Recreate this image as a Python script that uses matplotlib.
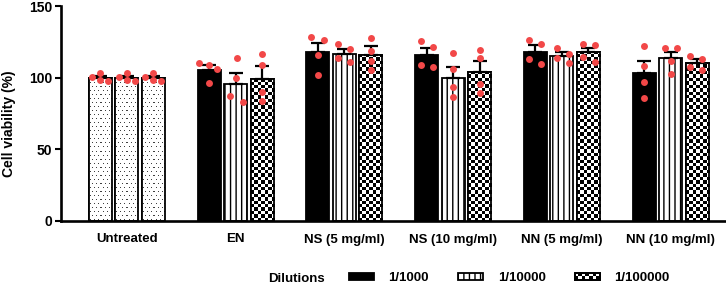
import numpy as np
import matplotlib
matplotlib.use('Agg')
import matplotlib.pyplot as plt
from matplotlib.patches import Rectangle
from matplotlib.legend_handler import HandlerBase

plt.rcParams['font.family'] = ['Liberation Sans', 'DejaVu Sans']
plt.rcParams['font.weight'] = 'bold'
plt.rcParams['hatch.linewidth'] = 1.0

# ---------------- data ----------------
groups = ['Untreated', 'EN', 'NS (5 mg/ml)', 'NS (10 mg/ml)', 'NN (5 mg/ml)', 'NN (10 mg/ml)']
dilutions = ['1/1000', '1/10000', '1/100000']
legend_title = 'Dilutions'
y_label = 'Cell viability (%)'
y_ticks = [0, 50, 100, 150]

means_1000 = [100.0, 105.3, 117.6, 115.7, 117.6, 103.2]
means_10000 = [100.0, 95.6, 116.4, 100.0, 115.0, 113.4]
means_100000 = [100.0, 99.0, 116.0, 104.2, 117.6, 110.0]

sem_1000 = [1.3, 3.7, 6.7, 5.1, 5.1, 8.1]
sem_10000 = [1.3, 7.4, 3.9, 7.6, 3.0, 4.6]
sem_100000 = [1.3, 9.0, 6.0, 7.6, 3.4, 2.7]

points_1000 = [
    [100.7, 103.3, 98.6, 97.9],
    [110.4, 109.0, 106.3, 96.0],
    [128.5, 126.4, 115.7, 101.6],
    [125.7, 121.7, 109.0, 107.2],
    [126.2, 123.4, 113.0, 109.5],
    [122.4, 108.3, 97.0, 85.6],
]
points_10000 = [
    [100.7, 103.3, 98.6, 97.9],
    [114.0, 100.0, 87.0, 83.3],
    [123.4, 119.9, 113.7, 110.6],
    [117.0, 105.8, 93.3, 86.8],
    [120.6, 116.4, 114.0, 110.2],
    [121.0, 120.6, 111.3, 102.3],
]
points_100000 = [
    [100.7, 103.3, 98.6, 97.9],
    [116.4, 108.8, 89.8, 83.5],
    [128.0, 118.8, 111.6, 105.6],
    [119.4, 114.0, 95.6, 89.4],
    [123.8, 122.9, 114.6, 110.6],
    [115.0, 112.7, 107.2, 105.6],
]

# ---------------- layout (dot jitter in pixels) ----------------
jitter_1000 = [[-8, 0, 0, 8], [-10, 0, 7.5, 0], [-7, 6, 0, 0], [-6, 6, -6, 6], [-6, 6, -6, 6], [0, 0, 0, 0]]
jitter_10000 = [[-8, 0, 0, 8], [1, 0, -6, 7], [-6, 6, -6, 6], [0, 0, 0, 0], [-5, 7, -5, 7], [-6, 6, 0, 0]]
jitter_100000 = [[-8, 0, 0, 8], [0, 0, 0, 0], [0, 0, 0, 0], [0, 0, 0, 0], [-5.5, 6.8, -5.5, 6.8], [-6.7, 5.3, -6.7, 5.3]]

W, H = 726, 287
fig = plt.figure(figsize=(W / 100, H / 100), dpi=100)
ax_left, ax_right, ax_top, ax_bottom = 61, 726, 6, 221
ax = fig.add_axes([ax_left / W, (H - ax_bottom) / H, (ax_right - ax_left) / W, (ax_bottom - ax_top) / H])

bar_width = 0.2116
bar_step = 0.2438
xlim = (-0.607, 5.51)
ylim = (0, 150)
ax.set_xlim(*xlim)
ax.set_ylim(*ylim)
px_per_unit = (ax_right - ax_left) / (xlim[1] - xlim[0])

dot_color = '#f24848'
edge_lw = 1.3
x = np.arange(len(groups))

series = [
    (means_1000, sem_1000, points_1000, jitter_1000, 'black', ''),
    (means_10000, sem_10000, points_10000, jitter_10000, 'white', '|||'),
    (means_100000, sem_100000, points_100000, jitter_100000, 'white', 'checker'),
]


def bar_pixels(rect):
    x0, y0 = rect.get_x(), rect.get_y()
    w, h = rect.get_width(), rect.get_height()
    p0 = ax.transData.transform((x0, y0))
    p1 = ax.transData.transform((x0 + w, y0 + h))
    return x0, y0, w, h, p1 - p0


def checker_fill(rect, cell_px=3.4):
    x0, y0, w, h, (wpx, hpx) = bar_pixels(rect)
    nx = max(1, int(round(wpx / cell_px)))
    ch = h / (hpx / cell_px)
    ny = int(np.ceil(h / ch))
    ii, jj = np.meshgrid(np.arange(nx), np.arange(ny))
    arr = ((ii + jj) % 2).astype(float)
    im = ax.imshow(arr, extent=[x0, x0 + w, y0, y0 + ny * ch], origin='lower',
                   cmap='gray', vmin=0, vmax=1, interpolation='nearest',
                   aspect='auto', zorder=2.1)
    im.set_clip_path(rect)


def dot_fill(rect, step=4):
    x0, y0, w, h, (wpx, hpx) = bar_pixels(rect)
    nx, ny = int(round(wpx)), int(round(hpx))
    arr = np.ones((ny, nx))
    rows = np.arange(ny)[:, None]
    cols = np.arange(nx)[None, :]
    mask = (rows % step == 1) & ((cols + (rows // step % 2) * (step // 2)) % step == 1)
    arr[mask] = 0.25
    im = ax.imshow(arr, extent=[x0, x0 + w, y0, y0 + h], origin='lower',
                   cmap='gray', vmin=0, vmax=1, interpolation='nearest',
                   aspect='auto', zorder=2.1)
    im.set_clip_path(rect)


for j, (means, sems, pts, jit, fc, hatch) in enumerate(series):
    xs = x + (j - 1) * bar_step
    for i in range(len(groups)):
        if i == 0 or hatch == 'checker':
            b = ax.bar(xs[i], means[i], bar_width, facecolor='white', edgecolor='black',
                       linewidth=edge_lw, zorder=2)
            if i == 0:
                dot_fill(b.patches[0])
            else:
                checker_fill(b.patches[0])
            ax.bar(xs[i], means[i], bar_width, facecolor='none', edgecolor='black',
                   linewidth=edge_lw, zorder=2.2)
        else:
            ax.bar(xs[i], means[i], bar_width, facecolor=fc, edgecolor='black',
                   linewidth=edge_lw, hatch=hatch if hatch else None, zorder=2)
        ax.errorbar(xs[i], means[i], yerr=[[0], [sems[i]]], fmt='none', ecolor='black',
                    elinewidth=1.6, capsize=5, capthick=1.6, zorder=3)
        dx = np.array(jit[i]) / px_per_unit
        ax.plot(xs[i] + dx, pts[i], 'o', color=dot_color, markersize=5,
                markeredgewidth=0, zorder=4)

ax.set_xlim(*xlim)
ax.set_ylim(*ylim)

for s in ['top', 'right']:
    ax.spines[s].set_visible(False)
for s in ['left', 'bottom']:
    ax.spines[s].set_linewidth(1.9)

ax.set_yticks(y_ticks)
ax.set_yticklabels([str(t) for t in y_ticks], fontsize=10, fontweight='bold')
ax.tick_params(axis='y', length=4, width=1.5, pad=2.5)
ax.set_xticks(x)
ax.set_xticklabels(groups, fontsize=9.5, fontweight='bold')
ax.tick_params(axis='x', length=0, pad=9)

fig.text(9 / W, 1 - 124 / H, y_label, rotation=90, ha='center', va='center',
         fontsize=10, fontweight='bold')

fig.text(268 / W, 1 - 282 / H, legend_title, ha='left', va='baseline',
         fontsize=9.5, fontweight='bold')


class CheckerHandler(HandlerBase):
    def create_artists(self, legend, orig_handle, xdescent, ydescent, width, height, fontsize, trans):
        arts = [Rectangle((-xdescent, -ydescent), width, height, facecolor='white',
                          edgecolor='black', lw=edge_lw, transform=trans)]
        n_rows = 2
        ch = height / n_rows
        n_cols = max(1, int(round(width / ch)))
        cw = width / n_cols
        for r in range(n_rows):
            for c in range(n_cols):
                if (r + c) % 2 == 0:
                    arts.append(Rectangle((-xdescent + c * cw, -ydescent + r * ch), cw, ch,
                                          facecolor='black', edgecolor='none', transform=trans))
        arts.append(Rectangle((-xdescent, -ydescent), width, height, facecolor='none',
                              edgecolor='black', lw=edge_lw, transform=trans))
        return arts


h1 = Rectangle((0, 0), 1, 1, facecolor='black', edgecolor='black', lw=edge_lw)
h2 = Rectangle((0, 0), 1, 1, facecolor='white', edgecolor='black', lw=edge_lw, hatch='|||')
h3 = Rectangle((0, 0), 1, 1, facecolor='white', edgecolor='black', lw=edge_lw)
fig.legend([h1, h2, h3], dilutions, ncol=3, loc='center left',
           bbox_to_anchor=(349 / W, 1 - 278 / H), bbox_transform=fig.transFigure,
           frameon=False, borderpad=0, borderaxespad=0, handlelength=1.9,
           handleheight=0.5, handletextpad=1.1, columnspacing=2.2,
           prop={'size': 9.5, 'weight': 'bold'}, handler_map={h3: CheckerHandler()})

fig.savefig('out.png', dpi=100)
